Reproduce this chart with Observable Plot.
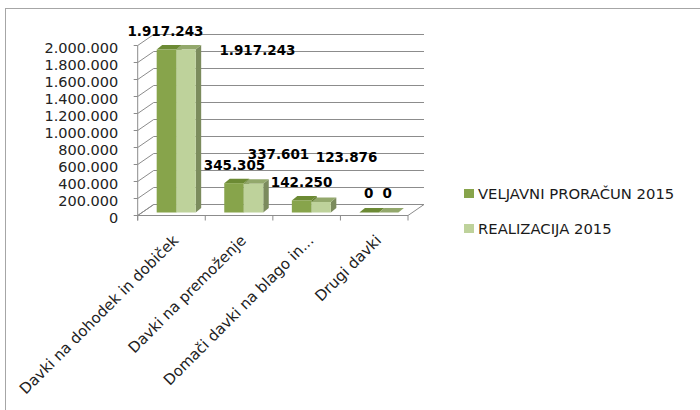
<!DOCTYPE html>
<html><head><meta charset="utf-8">
<script src="https://cdn.jsdelivr.net/npm/d3@7"></script>
<script src="https://cdn.jsdelivr.net/npm/@observablehq/plot@0.6"></script>
<style>
html,body{margin:0;padding:0;background:#fff;overflow:hidden;width:700px;height:410px}
#wrap{position:relative;width:700px;height:410px;overflow:hidden}
#border{position:absolute;left:5px;top:8px;width:800px;height:500px;border:1px solid #a6a6a6;box-sizing:border-box}
#chart{position:absolute;left:0;top:0}
#legend{position:absolute;left:464px;top:170px;width:236px;height:80px;font-family:"DejaVu Sans";font-size:14.8px;color:#1a1a1a}
.item{position:absolute;left:0;height:20px;line-height:20px;white-space:nowrap;display:flex;align-items:center}
.sw{width:10px;height:9px;margin-right:4px;flex:none}
</style></head>
<body><div id="wrap"><div id="border"></div><div id="chart"></div><div id="legend"></div></div>
<script>
// ---- data ----
const categories = ["Davki na dohodek in dobiček", "Davki na premoženje", "Domači davki na blago in...", "Drugi davki"];
const seriesNames = ["VELJAVNI PRORAČUN 2015", "REALIZACIJA 2015"];
const veljavni = [1917243, 345305, 142250, 0];
const realizacija = [1917243, 337601, 123876, 0];
const yTicks = [0, 200000, 400000, 600000, 800000, 1000000, 1200000, 1400000, 1600000, 1800000, 2000000];

// ---- styles / layout ----
const frontColor = ["#87a44b", "#bed29b"];
const topColor = ["#6c8a34", "#93a86c"];
const sideColor = ["#5f7a2c", "#7b8b5d"];
const gridColor = "#8c8c8c";
const depth = {dx: 16, dy: -11};
const barPlaneDy = -3;
const barDepth = {dx: 5.5, dy: -4.5};
const barOff = 0.281, barW = 0.2885;
const labelNudge = [
  {dx: [-1.5, 0, -0.5, -1], dy: [-18, -17.5, -18.5, -19.5]},
  {dx: [71, 24.5, 25, -2], dy: [1, -30, -45, -19.5]}
];

const fmt = d3.formatLocale({decimal: ",", thousands: ".", grouping: [3], currency: ["", ""]}).format(",");
const rows = categories.flatMap((c, i) => [
  {i, c, s: 0, v: veljavni[i]},
  {i, c, s: 1, v: realizacija[i]}
]);
const bx1 = d => d.i + barOff + d.s * barW;
const bx2 = d => bx1(d) + barW;

function walls(index, scales) {
  const {x, y} = scales;
  const g = d3.create("svg:g").attr("fill", "none").attr("stroke", gridColor).attr("stroke-width", 1);
  const x0 = x(0), x4 = x(4), y0 = y(0);
  g.append("path").attr("fill", "#fff")
    .attr("d", `M${x0},${y0}L${x4},${y0}L${x4 + depth.dx},${y0 + depth.dy}L${x0 + depth.dx},${y0 + depth.dy}Z`);
  for (const t of yTicks) {
    const yy = y(t);
    g.append("path").attr("d", `M${x0},${yy}L${x0 + depth.dx},${yy + depth.dy}L${x4 + depth.dx},${yy + depth.dy}`);
    g.append("path").attr("d", `M${x0 - 4},${yy}L${x0},${yy}`);
  }
  g.append("path").attr("d", `M${x0},${y(yTicks[yTicks.length - 1])}L${x0},${y0 + 5}`);
  for (let k = 0; k <= categories.length; k++) {
    g.append("path").attr("d", `M${x(k)},${y0}L${x(k)},${y0 + 5}`);
  }
  return g.node();
}

function faces(s) {
  return (index, scales) => {
    const {x, y} = scales;
    const g = d3.create("svg:g").attr("stroke", "none");
    for (const d of rows.filter(r => r.s === s)) {
      const a = x(bx1(d)), b = x(bx2(d));
      const y0 = y(0) + barPlaneDy, yv = y(d.v) + barPlaneDy;
      const {dx, dy} = barDepth;
      g.append("path").attr("fill", sideColor[s])
        .attr("d", `M${b},${y0}L${b},${yv}L${b + dx},${yv + dy}L${b + dx},${y0 + dy}Z`);
      g.append("path").attr("fill", topColor[s])
        .attr("d", `M${a},${yv}L${b},${yv}L${b + dx},${yv + dy}L${a + dx},${yv + dy}Z`);
    }
    return g.node();
  };
}

const marks = [walls];
for (const s of [0, 1]) {
  marks.push(faces(s));
  marks.push(Plot.rect(rows.filter(r => r.s === s), {x1: bx1, x2: bx2, y1: () => 0, y2: "v", dy: barPlaneDy, fill: frontColor[s]}));
}
marks.push(Plot.text(yTicks, {x: () => 0, y: d => d, text: d => fmt(d), textAnchor: "end", dx: -20, dy: 2.5, fontSize: 14.5, fill: "#222"}));
marks.push(Plot.text(categories, {x: (d, i) => i + 0.5, y: () => 0, text: d => d, rotate: -45, textAnchor: "end", dx: 4, dy: 22, fontSize: 15, fill: "#222"}));
for (const d of rows) {
  marks.push(Plot.text([d], {
    x: r => (bx1(r) + bx2(r)) / 2, y: "v", text: r => fmt(r.v),
    dx: labelNudge[d.s].dx[d.i], dy: barPlaneDy + labelNudge[d.s].dy[d.i],
    fontSize: 13.5, fontWeight: "bold", fill: "#000"
  }));
}

const chart = Plot.plot({
  width: 700, height: 410,
  marginLeft: 137.7, marginRight: 292, marginTop: 45.5, marginBottom: 194.5,
  x: {domain: [0, 4], axis: null},
  y: {domain: [0, 2000000], axis: null},
  style: {fontFamily: "DejaVu Sans", background: "transparent", overflow: "visible"},
  marks
});
document.getElementById("chart").appendChild(chart);

const legend = document.getElementById("legend");
seriesNames.forEach((name, k) => {
  const it = document.createElement("div");
  it.className = "item";
  it.style.top = (13.5 + 35 * k) + "px";
  const sw = document.createElement("span");
  sw.className = "sw"; sw.style.background = frontColor[k];
  const tx = document.createElement("span");
  tx.textContent = name;
  it.appendChild(sw); it.appendChild(tx);
  legend.appendChild(it);
});
</script></body></html>
